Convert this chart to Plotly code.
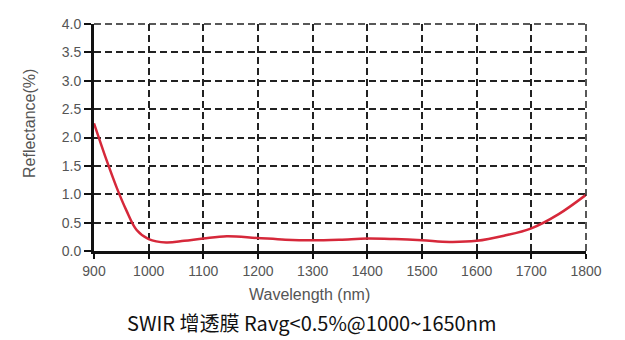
import plotly.graph_objects as go

wavelength = [900, 923, 941, 959, 978, 1000, 1032, 1065, 1100, 1143, 1198, 1250, 1300, 1350, 1400, 1450, 1500, 1550, 1600, 1650, 1700, 1750, 1800]
reflectance = [2.25, 1.6, 1.13, 0.72, 0.37, 0.21, 0.15, 0.18, 0.22, 0.26, 0.23, 0.2, 0.19, 0.2, 0.22, 0.21, 0.19, 0.16, 0.18, 0.27, 0.40, 0.65, 0.99]
x_ticks = [900, 1000, 1100, 1200, 1300, 1400, 1500, 1600, 1700, 1800]
y_ticks = [0.0, 0.5, 1.0, 1.5, 2.0, 2.5, 3.0, 3.5, 4.0]
x_title = "Wavelength (nm)"
y_title = "Reflectance(%)"
caption = "SWIR 增透膜 Ravg<0.5%@1000~1650nm"

GRID = "#222222"
DASH = "7px,4px"
W, H = 625, 340
L, R, T, B = 94, 39, 24, 89

fig = go.Figure()
fig.add_trace(go.Scatter(x=wavelength, y=reflectance, mode="lines",
                         line=dict(color="#d6283a", width=2.5, shape="spline", smoothing=1.0),
                         showlegend=False, hoverinfo="skip"))

fig.update_layout(
    width=W, height=H,
    margin=dict(l=L, r=R, t=T, b=B),
    paper_bgcolor="white", plot_bgcolor="white",
    font=dict(family="Arial", color="#555555", size=13),
    xaxis=dict(range=[900, 1800], tickvals=x_ticks, ticktext=[str(v) for v in x_ticks],
               showgrid=True, gridcolor=GRID, griddash=DASH, gridwidth=1.5,
               showline=True, linecolor="#111111", linewidth=3, mirror=False,
               ticks="outside", ticklen=5, tickcolor="#111111", tickwidth=1.5,
               zeroline=False, tickfont=dict(family="Arial", size=14, color="#555555")),
    yaxis=dict(range=[0, 4.0], tickvals=y_ticks, ticktext=[f"{v:.1f}" for v in y_ticks],
               showgrid=True, gridcolor=GRID, griddash=DASH, gridwidth=1.5,
               showline=True, linecolor="#111111", linewidth=3, mirror=False,
               ticks="outside", ticklen=7, tickcolor="#111111", tickwidth=1.5,
               zeroline=False, tickfont=dict(family="Arial", size=14, color="#555555")),
)

# dashed top and right border
fig.add_shape(type="line", xref="paper", yref="paper", x0=0, x1=1, y0=1, y1=1,
              line=dict(color=GRID, width=1.5, dash=DASH))
fig.add_shape(type="line", xref="paper", yref="paper", x0=1, x1=1, y0=0, y1=1,
              line=dict(color=GRID, width=1.5, dash=DASH))

pw, ph = W - L - R, H - T - B
def px(xp):
    return (xp - L) / pw
def py(yp):
    return (H - B - yp) / ph

fig.add_annotation(text=x_title, xref="paper", yref="paper", x=px(309), y=py(294),
                   showarrow=False, xanchor="center", yanchor="middle",
                   font=dict(family="Arial", size=16, color="#555555"))
fig.add_annotation(text=y_title, xref="paper", yref="paper", x=px(29), y=py(124),
                   showarrow=False, xanchor="center", yanchor="middle", textangle=-90,
                   font=dict(family="Arial", size=16, color="#555555"))
fig.add_annotation(text=caption, xref="paper", yref="paper", x=px(311.5), y=py(322),
                   showarrow=False, xanchor="center", yanchor="middle",
                   font=dict(family="Noto Sans CJK SC", size=20, color="#111111"))

fig.write_html("out.html")
